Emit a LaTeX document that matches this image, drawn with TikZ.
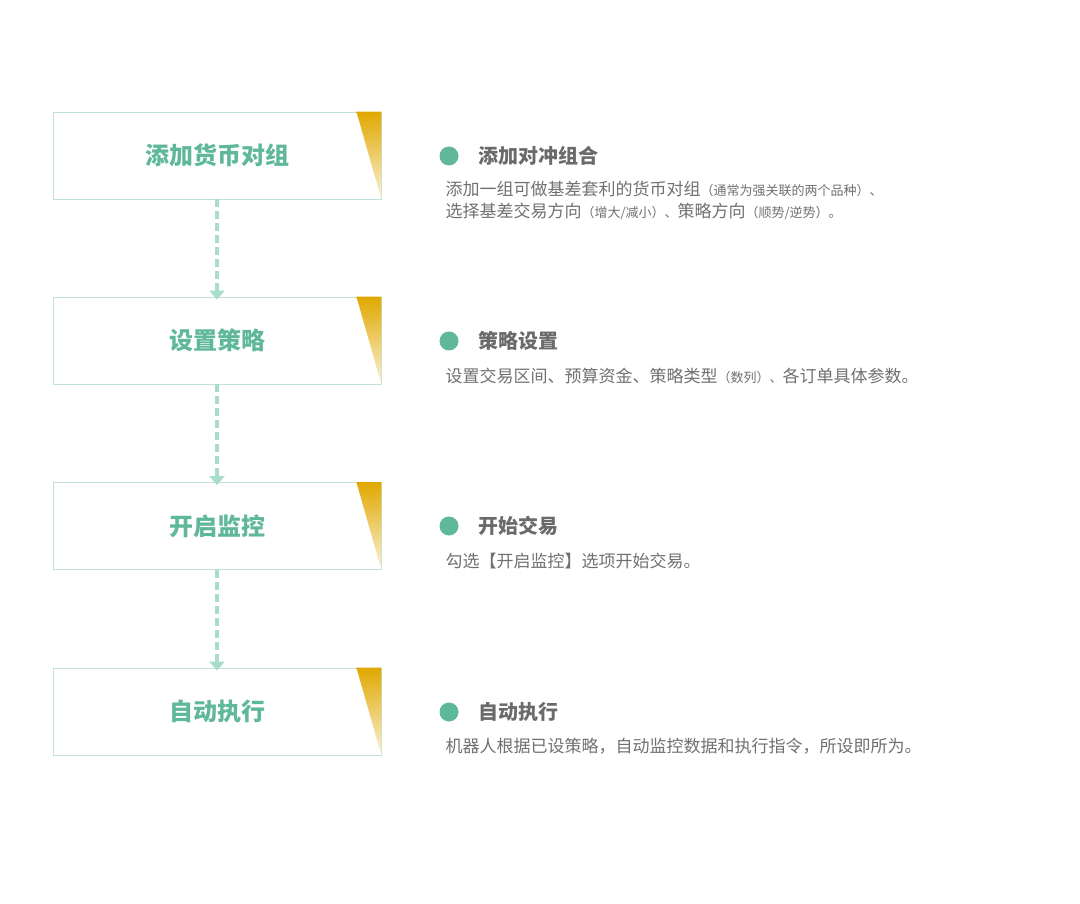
\documentclass[tikz,border=0pt]{standalone}
\usepackage{fontspec}
\setmainfont{Noto Sans CJK SC}
\usetikzlibrary{arrows.meta}
\definecolor{teal}{HTML}{5FB89C}
\definecolor{boxline}{HTML}{BFE3D8}
\definecolor{arr}{HTML}{A8DCCC}
\definecolor{gold}{HTML}{E0A800}
\definecolor{txt}{HTML}{707070}
\definecolor{head}{HTML}{6A6A6A}
\tikzset{x=1pt,y=-1pt,
 stepbox/.style={draw=boxline,line width=0.8pt,minimum width=328pt,minimum height=87pt,inner sep=0pt,fill=white},
 boxtext/.style={font=\fontsize{24}{28}\selectfont\bfseries,text=teal},
 flow/.style={draw=arr,line width=3.2pt,dash pattern=on 8pt off 4pt,-{Triangle[width=15pt,length=9pt]}},
 heading/.style={anchor=west,font=\fontsize{20}{24}\selectfont\bfseries,text=head},
 desc/.style={anchor=west,font=\fontsize{17}{22}\selectfont,text=txt},
 bullet/.style={circle,fill=teal,minimum size=19pt,inner sep=0pt}}
\newcommand{\sm}[1]{{\fontsize{13}{16}\selectfont #1}}
\begin{document}
\begin{tikzpicture}
\useasboundingbox (0,0) rectangle (1080,904);
\foreach \n/\y/\t in {a/155.5/添加货币对组,b/340.5/设置策略,c/526/开启监控,d/711.5/自动执行}{
 \node[stepbox] (\n) at (217,\y) {};
 \node[boxtext] (\n t) at (217,\y) {\t};
 \shade[top color=gold,bottom color=gold!15] (\n.north east) ++(-25,0) coordinate (\n c) -- (\n.north east) -- (\n.south east) -- cycle;
}
\draw[flow] (a.south) -- ([yshift=-3pt]b.north);
\draw[flow] (b.south) -- ([yshift=-3pt]c.north);
\draw[flow] (c.south) -- ([yshift=-3pt]d.north);
\foreach \n/\y/\h in {a/156/添加对冲组合,b/341/策略设置,c/526/开始交易,d/712/自动执行}{
 \node[bullet] (\n b) at (449,\y) {};
 \node[heading] (\n h) at (475,\y) {\h};
}
\node[desc] (a1) at (442,189) {添加一组可做基差套利的货币对组\sm{（通常为强关联的两个品种）、}};
\node[desc] (a2) at (442,211) {选择基差交易方向\sm{（增大/减小）、}策略方向\sm{（顺势/逆势）。}};
\node[desc] (b1) at (442,376) {设置交易区间、预算资金、策略类型\sm{（数列）、}各订单具体参数。};
\node[desc] (c1) at (442,561) {勾选【开启监控】选项开始交易。};
\node[desc] (d1) at (442,746) {机器人根据已设策略，自动监控数据和执行指令，所设即所为。};
\end{tikzpicture}
\end{document}
